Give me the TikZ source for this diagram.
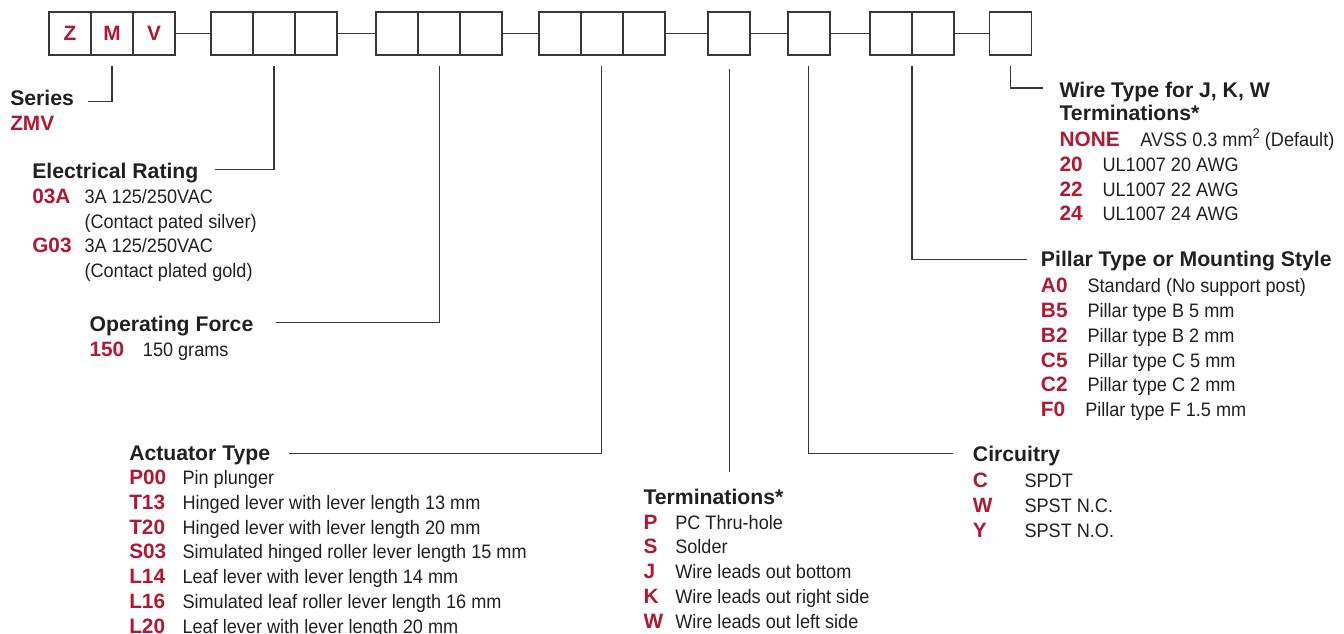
\documentclass[tikz,border=0pt]{standalone}
\usepackage{fontspec}
\setmainfont{Liberation Sans}
\newfontfamily\bodyfont[FakeStretch=0.93]{Liberation Sans}
\definecolor{codered}{RGB}{178,24,48}
\definecolor{ink}{RGB}{35,31,32}
\definecolor{linegray}{RGB}{55,55,55}
\begin{document}
\begin{tikzpicture}[x=0.75pt,y=-0.75pt,
 box/.style={draw=linegray,line width=1.3pt,minimum width=31.5pt,minimum height=32pt,inner sep=0pt,outer sep=0pt},
 conn/.style={draw=linegray,line width=1pt},
 head/.style={anchor=base west,inner sep=0pt,text=ink,font=\fontsize{15.9pt}{19pt}\selectfont\bfseries},
 code/.style={anchor=base west,inner sep=0pt,text=codered,font=\fontsize{15.6pt}{19pt}\selectfont\bfseries},
 desc/.style={anchor=base west,inner sep=0pt,text=ink,font=\bodyfont\fontsize{14.6pt}{17pt}\selectfont},
 letter/.style={text=codered,font=\fontsize{15.6pt}{19pt}\selectfont\bfseries}]
\useasboundingbox (0,0) rectangle (1344,633);

% ---- boxes
\node[box,letter] (z) at (70,33.65) {Z};
\node[box,letter] (m) at (112,33.65) {M};
\node[box,letter] (v) at (154,33.65) {V};
\node[box] (ga) at (232,33.65) {};
\node[box] (gb) at (274,33.65) {};
\node[box] (gc) at (316,33.65) {};
\node[box] (ha) at (397.3,33.65) {};
\node[box] (hb) at (439.3,33.65) {};
\node[box] (hc) at (481.3,33.65) {};
\node[box] (ka) at (559.7,33.65) {};
\node[box] (kb) at (601.7,33.65) {};
\node[box] (kc) at (643.7,33.65) {};
\node[box] (t1) at (729.2,33.65) {};
\node[box] (c1) at (808.7,33.65) {};
\node[box] (pa) at (891,33.65) {};
\node[box] (pb) at (933,33.65) {};
\node[box] (w1) at (1010.5,33.65) {};

\draw[conn] (v.east) -- (ga.west);
\draw[conn] (gc.east) -- (ha.west);
\draw[conn] (hc.east) -- (ka.west);
\draw[conn] (kc.east) -- (t1.west);
\draw[conn] (t1.east) -- (c1.west);
\draw[conn] (c1.east) -- (pa.west);
\draw[conn] (pb.east) -- (w1.west);

% ---- connector ends
\coordinate (serE) at (88,101.7);
\coordinate (elecE) at (215,169.3);
\coordinate (opE) at (276,322.7);
\coordinate (actE) at (289.3,453.3);
\coordinate (termN) at (730,472.3);
\coordinate (circW) at (953.3,453.3);
\coordinate (pilW) at (1026.7,259.3);
\coordinate (wireW) at (1043.3,88);

\draw[conn] ([yshift=-8.25pt]m.south) |- (serE);
\draw[conn] ([yshift=-8.25pt]gb.south) |- (elecE);
\draw[conn] ([yshift=-8.25pt]hb.south) |- (opE);
\draw[conn] ([yshift=-8.25pt]kb.south) |- (actE);
\draw[conn] ([yshift=-10.5pt]t1.south) -- (t1.south |- termN);
\draw[conn] ([yshift=-8.25pt]c1.south) |- (circW);
\draw[conn] ([yshift=-8.25pt]pa.south east) |- (pilW);
\draw[conn] ([yshift=-8.25pt]w1.south) |- (wireW);

% ---- Series
\node[head] (ser) at (10,105) {Series};
\node[code] (serc) at (10,130) {ZMV};

% ---- Electrical Rating
\node[head] (elec) at (32,178.3) {Electrical Rating};
\node[code] (e1) at (32,203.3) {03A};
\node[desc] (e1d) at (84.3,203.3) {3A 125/250VAC};
\node[desc] (e1e) at (84.3,228) {(Contact pated silver)};
\node[code] (e2) at (32,252.7) {G03};
\node[desc] (e2d) at (84.3,252.7) {3A 125/250VAC};
\node[desc] (e2e) at (84.3,277.5) {(Contact plated gold)};

% ---- Operating Force
\node[head] (op) at (89.3,331.7) {Operating Force};
\node[code] (o1) at (89.3,356.3) {150};
\node[desc] (o1d) at (142.7,356.3) {150 grams};

% ---- Actuator Type
\node[head] (act) at (129,460) {Actuator Type};
\node[code] (a1) at (129,484.5) {P00};
\node[desc] (a1d) at (182.3,484.5) {Pin plunger};
\node[code] (a2) at (129,509.3) {T13};
\node[desc] (a2d) at (182.3,509.3) {Hinged lever with lever length 13 mm};
\node[code] (a3) at (129,534.1) {T20};
\node[desc] (a3d) at (182.3,534.1) {Hinged lever with lever length 20 mm};
\node[code] (a4) at (129,558.9) {S03};
\node[desc] (a4d) at (182.3,558.9) {Simulated hinged roller lever length 15 mm};
\node[code] (a5) at (129,583.7) {L14};
\node[desc] (a5d) at (182.3,583.7) {Leaf lever with lever length 14 mm};
\node[code] (a6) at (129,608.5) {L16};
\node[desc] (a6d) at (182.3,608.5) {Simulated leaf roller lever length 16 mm};
\node[code] (a7) at (129,633.3) {L20};
\node[desc] (a7d) at (182.3,633.3) {Leaf lever with lever length 20 mm};

% ---- Terminations
\node[head] (term) at (643.3,504) {Terminations*};
\node[code] (r1) at (643.3,529) {P};
\node[desc] (r1d) at (675,529) {PC Thru-hole};
\node[code] (r2) at (643.3,553.8) {S};
\node[desc] (r2d) at (675,553.8) {Solder};
\node[code] (r3) at (643.3,578.6) {J};
\node[desc] (r3d) at (675,578.6) {Wire leads out bottom};
\node[code] (r4) at (643.3,603.4) {K};
\node[desc] (r4d) at (675,603.4) {Wire leads out right side};
\node[code] (r5) at (643.3,628.2) {W};
\node[desc] (r5d) at (675,628.2) {Wire leads out left side};

% ---- Circuitry
\node[head] (circ) at (972.7,461.7) {Circuitry};
\node[code] (s1) at (972.7,487.7) {C};
\node[desc] (s1d) at (1024.3,487.7) {SPDT};
\node[code] (s2) at (972.7,512.5) {W};
\node[desc] (s2d) at (1024.3,512.5) {SPST N.C.};
\node[code] (s3) at (972.7,537.3) {Y};
\node[desc] (s3d) at (1024.3,537.3) {SPST N.O.};

% ---- Pillar Type
\node[head] (pil) at (1040.7,266.7) {Pillar Type or Mounting Style};
\node[code] (q1) at (1040.7,292.7) {A0};
\node[desc] (q1d) at (1087.3,292.7) {Standard (No support post)};
\node[code] (q2) at (1040.7,317.5) {B5};
\node[desc] (q2d) at (1087.3,317.5) {Pillar type B 5 mm};
\node[code] (q3) at (1040.7,342.3) {B2};
\node[desc] (q3d) at (1087.3,342.3) {Pillar type B 2 mm};
\node[code] (q4) at (1040.7,367.1) {C5};
\node[desc] (q4d) at (1087.3,367.1) {Pillar type C 5 mm};
\node[code] (q5) at (1040.7,391.9) {C2};
\node[desc] (q5d) at (1087.3,391.9) {Pillar type C 2 mm};
\node[code] (q6) at (1040.7,416.7) {F0};
\node[desc] (q6d) at (1085,416.7) {Pillar type F 1.5 mm};

% ---- Wire Type
\node[head] (wire) at (1059.3,97.5) {Wire Type for J, K, W};
\node[head] (wire2) at (1059.3,120.7) {Terminations*};
\node[code] (u1) at (1059.3,146.5) {NONE};
\node[desc] (u1d) at (1140,146.5) {AVSS 0.3 mm\raisebox{0.42em}{\fontsize{10.5pt}{10.5pt}\selectfont 2} (Default)};
\node[code] (u2) at (1059.3,171.3) {20};
\node[desc] (u2d) at (1102.3,171.3) {UL1007 20 AWG};
\node[code] (u3) at (1059.3,196.1) {22};
\node[desc] (u3d) at (1102.3,196.1) {UL1007 22 AWG};
\node[code] (u4) at (1059.3,220.9) {24};
\node[desc] (u4d) at (1102.3,220.9) {UL1007 24 AWG};
\end{tikzpicture}
\end{document}
